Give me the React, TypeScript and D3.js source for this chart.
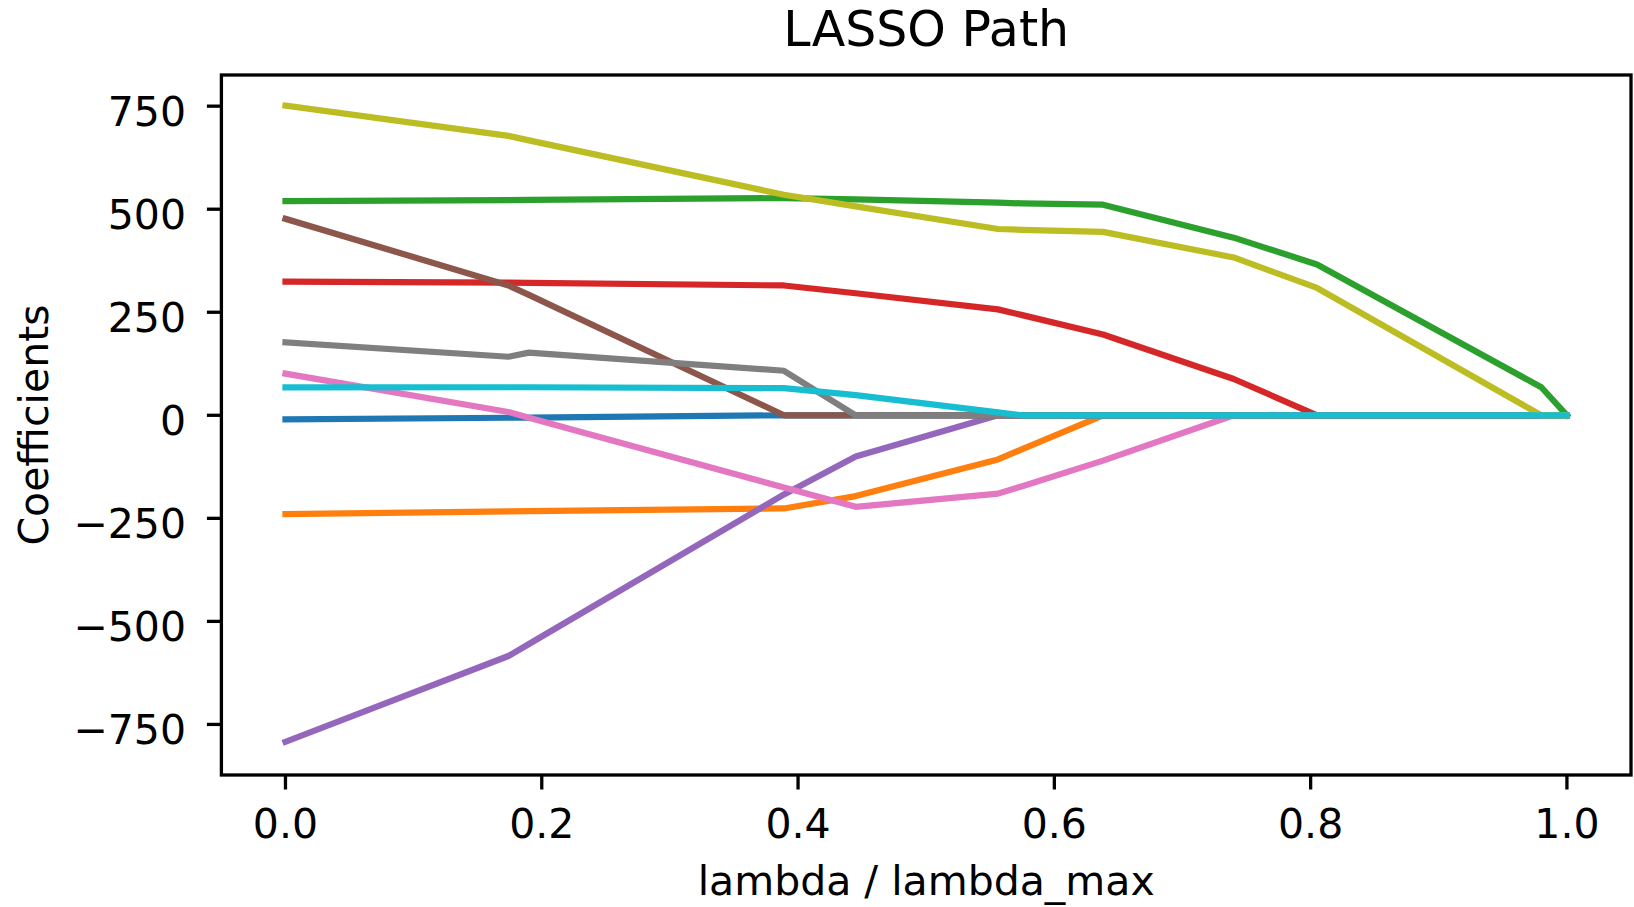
import * as d3 from 'd3'

// lambda / lambda_max breakpoints of the path
const lambdaRatio = [0, 0.174, 0.19, 0.389, 0.445, 0.556, 0.575, 0.638, 0.74, 0.805, 0.98, 1.0]

// coefficient value of each feature at those breakpoints
const coefAge = [-10, -6, -5.5, 0, 0, 0, 0, 0, 0, 0, 0, 0]
const coefSex = [-239.8, -233, -232.5, -226, -196, -107, -82, 0, 0, 0, 0, 0]
const coefBmi = [519.8, 522, 522.5, 527, 524, 516, 514, 511, 431, 366, 68, 0]
const coefBp = [324.4, 322, 321.5, 315, 296, 257, 243, 196, 88, 0, 0, 0]
const coefS1 = [-792.2, -584, -555, -192, -100, 0, 0, 0, 0, 0, 0, 0]
const coefS2 = [476.7, 315, 292, 0, 0, 0, 0, 0, 0, 0, 0, 0]
const coefS3 = [101, 8, -6, -175, -222, -190, -172, -110, 0, 0, 0, 0]
const coefS4 = [177.1, 142, 152, 108, 0, 0, 0, 0, 0, 0, 0, 0]
const coefS5 = [751.3, 678, 667, 535, 507, 452, 450, 445, 383, 309, 0, 0]
const coefS6 = [67.6, 68, 68, 66, 49, 7, 0, 0, 0, 0, 0, 0]

const seriesList = [coefAge, coefSex, coefBmi, coefBp, coefS1, coefS2, coefS3, coefS4, coefS5, coefS6]
const palette = ['#1f77b4', '#ff7f0e', '#2ca02c', '#d62728', '#9467bd', '#8c564b', '#e377c2', '#7f7f7f', '#bcbd22', '#17becf']

const xTicks = [0, 0.2, 0.4, 0.6, 0.8, 1.0]
const yTicks = [-750, -500, -250, 0, 250, 500, 750]

const W = 1634
const H = 907
const box = { left: 221.4, right: 1631, top: 75, bottom: 775 }
const FONT = '"DejaVu Sans", sans-serif'

export default function App() {
  const x = d3.scaleLinear().domain([-0.05, 1.05]).range([box.left, box.right])
  const y = d3.scaleLinear().domain([-872.7, 825.6]).range([box.bottom, box.top])

  const line = d3.line<number>()
    .x((_, i) => x(lambdaRatio[i]))
    .y(d => y(d))

  const fmtY = (v: number) => (v < 0 ? '\u2212' + Math.abs(v) : String(v))

  return (
    <svg width={W} height={H} style={{ position: 'absolute', left: 0, top: 0, background: '#fff' }}
      fontFamily={FONT}>
      <rect width={W} height={H} fill="#fff" />

      {seriesList.map((vals, k) => (
        <path key={k} d={line(vals) ?? ''} fill="none" stroke={palette[k]}
          strokeWidth={6.2} strokeLinejoin="round" strokeLinecap="square" />
      ))}

      {/* spines */}
      <rect x={box.left} y={box.top} width={box.right - box.left} height={box.bottom - box.top}
        fill="none" stroke="#000" strokeWidth={3.3} />

      {/* x ticks */}
      {xTicks.map(t => (
        <g key={t}>
          <line x1={x(t)} x2={x(t)} y1={box.bottom} y2={box.bottom + 14.5} stroke="#000" strokeWidth={3.3} />
          <text x={x(t)} y={838} textAnchor="middle" fontSize={41}>{t.toFixed(1)}</text>
        </g>
      ))}

      {/* y ticks */}
      {yTicks.map(t => (
        <g key={t}>
          <line x1={box.left} x2={box.left - 14.5} y1={y(t)} y2={y(t)} stroke="#000" strokeWidth={3.3} />
          <text x={186} y={y(t) + 19.7} textAnchor="end" fontSize={41}>{fmtY(t)}</text>
        </g>
      ))}

      <text x={(box.left + box.right) / 2} y={46} textAnchor="middle" fontSize={49}>LASSO Path</text>
      <text x={(box.left + box.right) / 2} y={895} textAnchor="middle" fontSize={41}>lambda / lambda_max</text>
      <text transform={`translate(48,${(box.top + box.bottom) / 2}) rotate(-90)`} textAnchor="middle" fontSize={41}>
        Coefficients
      </text>
    </svg>
  )
}
